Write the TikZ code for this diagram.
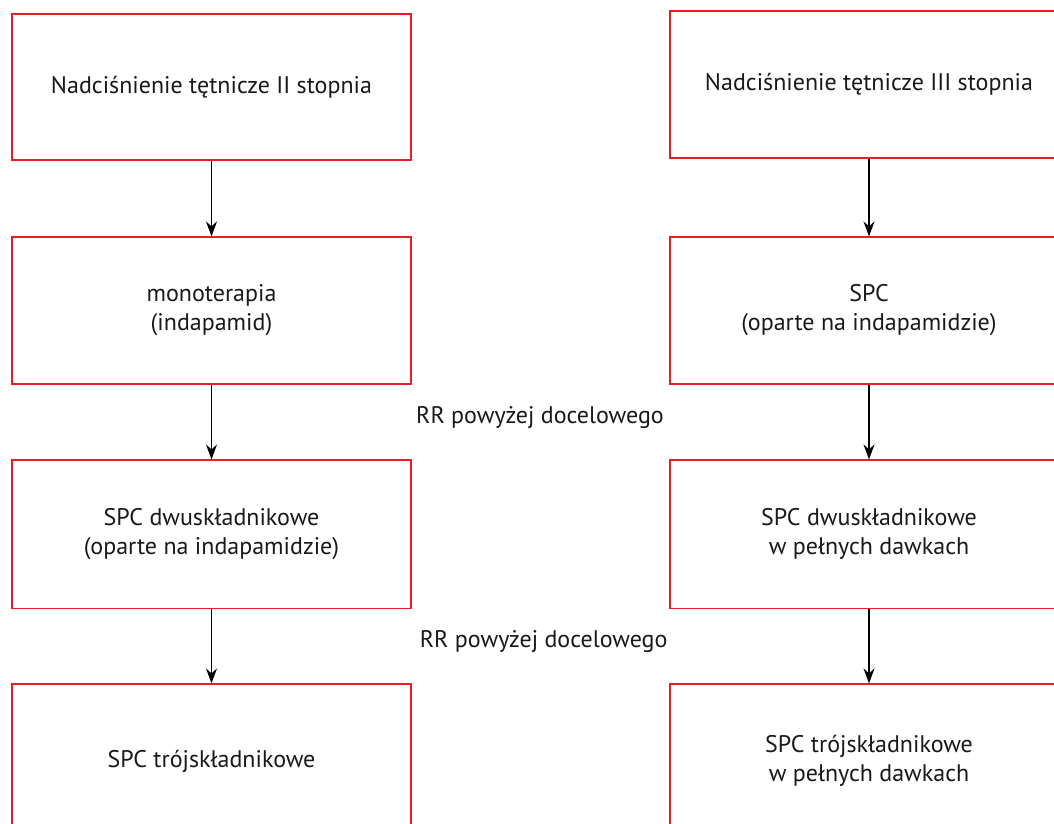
\documentclass[tikz,border=0pt]{standalone}
\usepackage{fontspec}
\setmainfont{PT Sans}
\usetikzlibrary{arrows.meta}
\definecolor{boxred}{RGB}{237,28,36}
\tikzset{
  stepbox/.style={draw=boxred, line width=1.2pt, rectangle, inner sep=0pt, align=center,
    font=\fontsize{24}{29}\selectfont, text=black!90},
  arr/.style={draw=black, line width=1.3pt, -{Stealth[length=15pt,width=11pt,inset=5pt]}},
  lbl/.style={inner sep=0pt, anchor=base, font=\fontsize{24}{29}\selectfont, text=black!90}
}
\begin{document}
\begin{tikzpicture}[x=1pt,y=-1pt]
\path[use as bounding box] (0,0) rectangle (1054,823);
\clip (0,0) rectangle (1054,823);
\fill[white] (0,0) rectangle (1054,823);
% left column
\node[stepbox, minimum width=399pt, minimum height=146pt] (L1) at (211.5,87) {Nadciśnienie tętnicze II stopnia};
\node[stepbox, minimum width=399pt, minimum height=147pt] (L2) at (211.5,310.5) {monoterapia\\(indapamid)};
\node[stepbox, minimum width=399pt, minimum height=148.5pt] (L3) at (211.5,534.3) {SPC dwuskładnikowe\\(oparte na indapamidzie)};
\node[stepbox, minimum width=399pt, minimum height=154pt] (L4) at (211.5,761) {SPC trójskładnikowe};
% right column
\node[stepbox, minimum width=398pt, minimum height=147pt] (R1) at (869,84.5) {Nadciśnienie tętnicze III stopnia};
\node[stepbox, minimum width=398pt, minimum height=147pt] (R2) at (869,310.5) {SPC\\(oparte na indapamidzie)};
\node[stepbox, minimum width=398pt, minimum height=148.5pt] (R3) at (869,534.3) {SPC dwuskładnikowe\\w pełnych dawkach};
\node[stepbox, minimum width=398pt, minimum height=154pt] (R4) at (869,761) {SPC trójskładnikowe\\w pełnych dawkach};
% labels
\node[lbl] (t1) at (540,423) {RR powyżej docelowego};
\node[lbl] (t2) at (543.7,647.3) {RR powyżej docelowego};
% arrows
\draw[arr] (L1.south) -- (L2.north);
\draw[arr] (L2.south) -- (L3.north);
\draw[arr] (L3.south) -- (L4.north);
\draw[arr] (R1.south) -- (R2.north);
\draw[arr] (R2.south) -- (R3.north);
\draw[arr] (R3.south) -- (R4.north);
\end{tikzpicture}
\end{document}
